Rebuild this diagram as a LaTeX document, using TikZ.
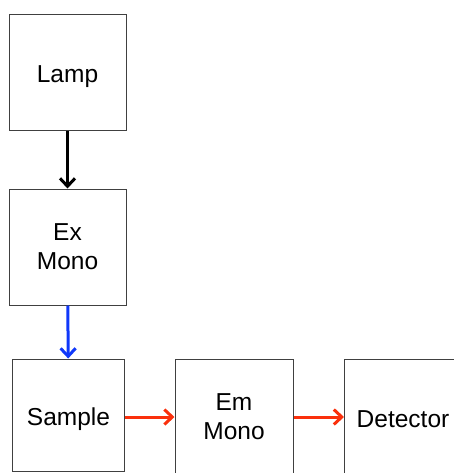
\documentclass[tikz,border=0pt]{standalone}
\usepackage{fontspec}
\setmainfont{Liberation Sans}
\usetikzlibrary{arrows.meta}
\definecolor{exblue}{RGB}{16,56,250}
\definecolor{emred}{RGB}{250,48,12}
\tikzset{
	stage/.style={draw=black!75,line width=1pt,inner sep=0pt,align=center,minimum width=117pt,minimum height=116pt,font=\fontsize{24.5}{29}\selectfont},
	oneline/.style={text height=24pt,text depth=4pt},
	beam/.style={line width=3pt,-{Straight Barb[length=8pt,width=15pt]}},
}

\begin{document}
\begin{tikzpicture}[x=1pt,y=1pt]
	\clip (0,0) rectangle (454,-473);
	\node[stage,oneline] (lamp) at (67.5,-73) {Lamp};
	\node[stage] (exmono) at (67.5,-247) {Ex\\Mono};
	\node[stage,oneline,minimum width=112pt,minimum height=112pt] (sample) at (68.5,-415) {Sample};
	\node[stage,minimum width=118pt] (emmono) at (234,-417) {Em\\Mono};
	\node[stage,oneline] (detector) at (403,-417) {Detector};
	\draw[beam] (lamp) -- (exmono);
	\draw[beam,exblue] (exmono) -- (sample);
	\draw[beam,emred] (sample.east |- emmono.west) -- (emmono);
	\draw[beam,emred] (emmono) -- (detector);
\end{tikzpicture}
\end{document}
